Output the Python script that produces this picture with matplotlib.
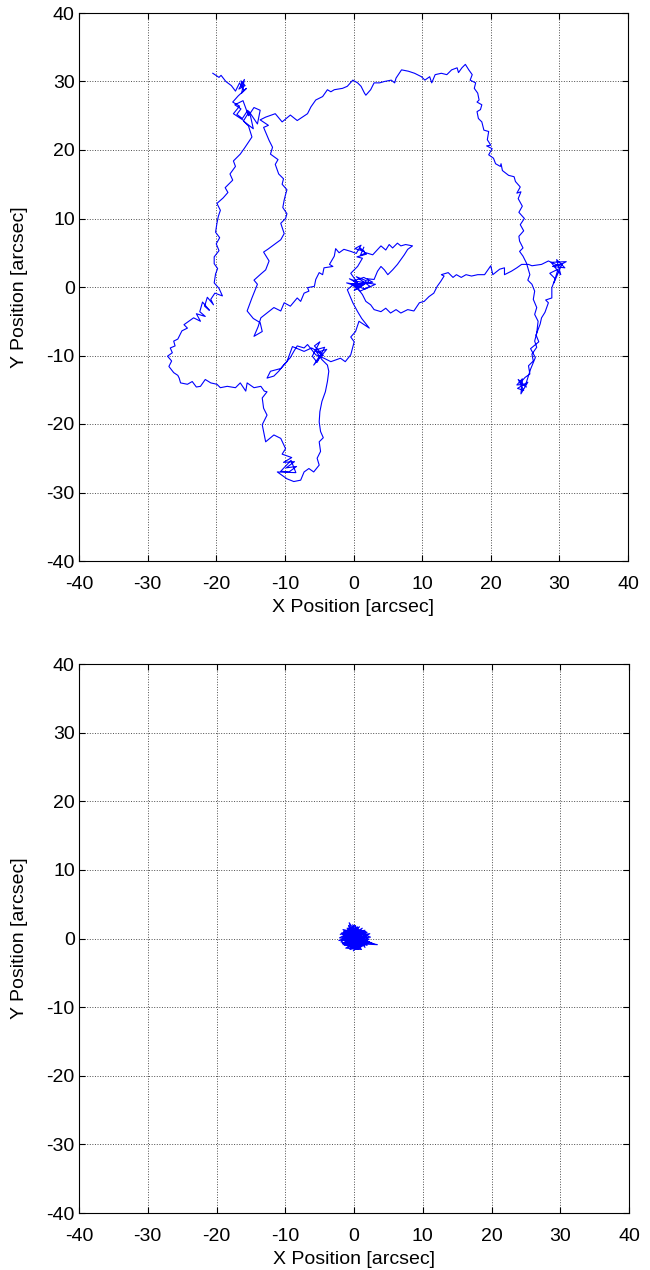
import matplotlib
matplotlib.use("Agg")
import matplotlib.pyplot as plt
import numpy as np

plt.rcParams["font.family"] = ["Liberation Sans", "DejaVu Sans"]
plt.rcParams["axes.unicode_minus"] = False

# ---- top panel: image motion track (arcsec) ----
start_top_left = [
    (-20.5, 31.2), (-19.6, 30.6), (-19.3, 30.9), (-18.6, 30.0), (-17.8, 29.4),
    (-17.2, 28.6), (-16.6, 29.8), (-16.0, 28.7), (-16.4, 30.1), (-15.8, 29.4),
    (-16.7, 28.9), (-15.9, 30.3), (-16.3, 28.3), (-15.6, 29.0), (-16.8, 27.9),
    (-17.6, 27.0), (-16.6, 26.4), (-17.5, 25.3), (-16.9, 24.9), (-16.0, 24.3),
    (-15.2, 25.6), (-14.0, 23.8), (-13.6, 25.8), (-14.5, 26.2), (-15.3, 25.0),
    (-16.1, 27.2), (-17.3, 26.6), (-16.4, 26.0), (-17.0, 25.2), (-16.2, 24.6),
    (-15.4, 25.8), (-15.0, 24.9), (-14.6, 23.1), (-16.0, 24.2), (-15.3, 23.5),
]
left_strand = [
    (-14.8, 21.9), (-15.8, 20.4), (-16.5, 19.4), (-17.5, 18.4), (-17.2, 17.6),
    (-18.0, 16.5), (-17.6, 15.6), (-18.7, 14.5), (-18.3, 13.8), (-19.0, 13.0),
    (-19.9, 12.2), (-19.4, 11.2), (-19.7, 10.3), (-19.9, 9.3), (-20.1, 8.0),
    (-19.5, 7.2), (-20.0, 6.3), (-19.6, 5.3), (-20.3, 4.4), (-20.3, 3.4),
    (-19.8, 2.7), (-20.1, 1.9), (-20.3, 0.6), (-19.6, -0.2), (-19.1, -1.3),
    (-20.2, -0.9), (-20.8, -1.8), (-20.4, -2.6), (-21.3, -1.5), (-21.7, -2.8),
    (-21.0, -3.4), (-22.0, -2.2), (-22.4, -3.6), (-21.6, -4.3), (-22.9, -3.9),
    (-22.3, -5.0),
]
left_loop = [
    (-23.3, -4.5), (-24.7, -5.5), (-24.2, -6.0), (-25.0, -6.4), (-25.6, -7.6),
    (-26.2, -7.9), (-26.0, -8.6), (-26.7, -8.9), (-26.4, -9.6), (-27.1, -10.1),
    (-26.5, -10.8), (-26.9, -11.6), (-26.2, -12.5), (-25.6, -12.9), (-25.4, -13.3),
    (-25.2, -14.0), (-24.2, -14.2), (-23.5, -13.8), (-22.9, -14.6), (-22.3, -14.5),
    (-21.6, -13.5), (-20.8, -14.0), (-19.9, -14.2), (-19.4, -14.7), (-18.4, -14.5),
    (-17.2, -14.7), (-16.5, -14.0), (-15.7, -15.2), (-15.5, -14.0), (-14.5, -14.7),
    (-13.5, -14.5),
]
lower_loop = [
    (-13.0, -15.2), (-12.6, -15.3), (-13.3, -16.2), (-13.1, -17.7), (-12.6, -18.7),
    (-13.3, -20.1), (-13.1, -21.1), (-12.8, -22.6), (-11.6, -21.6), (-10.6, -22.1),
    (-9.9, -23.6), (-10.4, -24.4), (-9.0, -24.9), (-10.2, -25.6), (-8.6, -25.5),
    (-9.8, -26.4), (-8.3, -26.2), (-9.4, -27.0), (-10.6, -26.9), (-9.1, -25.3),
    (-8.4, -27.1), (-11.1, -27.0), (-9.7, -28.0), (-8.7, -28.4), (-7.7, -28.2),
    (-7.2, -27.0), (-6.5, -26.5), (-5.8, -27.0), (-5.0, -26.0), (-5.3, -25.0),
    (-4.8, -24.0), (-5.0, -22.6), (-4.4, -22.0), (-4.8, -21.1), (-5.0, -19.7),
    (-4.9, -18.2), (-4.6, -16.7), (-4.1, -15.3), (-3.8, -13.8), (-3.6, -12.3),
    (-3.8, -11.4),
]
mid_cluster = [
    (-4.6, -10.6), (-5.6, -9.2), (-4.2, -8.8), (-5.3, -11.0), (-6.0, -10.1),
    (-4.9, -8.0), (-5.7, -8.6), (-4.4, -10.0), (-5.2, -9.5), (-3.9, -9.1),
    (-5.8, -11.4), (-4.7, -9.7), (-6.1, -8.9), (-7.2, -9.4), (-8.9, -8.7),
    (-9.7, -10.9), (-10.6, -11.9), (-12.1, -12.3), (-12.6, -13.3), (-11.6, -13.0),
    (-10.9, -12.3), (-10.1, -11.3), (-9.2, -10.3), (-8.7, -9.4), (-8.2, -8.6),
    (-7.2, -8.9), (-6.7, -8.4), (-5.5, -9.9), (-4.3, -10.4),
]
center_rise = [
    (-3.3, -10.9), (-1.9, -10.4), (-1.2, -10.9), (-0.4, -9.9), (0.1, -8.0),
    (-0.4, -7.3), (0.3, -6.5), (0.8, -5.0), (2.3, -6.0), (1.2, -4.6),
    (0.6, -3.6), (-0.1, -2.3), (-0.9, -0.4), (0.5, 0.8), (-0.6, 1.2),
    (1.2, 0.2), (0.1, -0.5), (1.9, 0.9), (0.4, 1.5), (2.4, 0.1),
    (1.0, -0.6), (-0.3, 0.4), (2.8, 0.7), (1.5, 1.4), (0.0, 0.9),
    (3.2, 0.4), (1.7, -0.3), (-1.0, 0.6), (0.8, 0.3), (-0.4, 2.0),
    (0.6, 3.0), (1.3, 4.2), (0.5, 4.4), (1.9, 4.8), (0.9, 5.7),
    (1.6, 5.2), (0.2, 5.6), (1.1, 6.1), (0.4, 4.9),
]
upper_left_strand = [
    (-0.4, 5.2), (-1.4, 5.5), (-2.1, 5.0), (-2.6, 5.6), (-2.8, 4.5),
    (-3.5, 3.3), (-3.0, 3.0), (-4.3, 2.8), (-4.5, 1.8), (-5.0, 2.1),
    (-5.5, 1.1), (-5.7, 0.1), (-6.7, -0.1), (-6.5, -0.6), (-7.2, -0.9),
    (-7.7, -2.1), (-8.2, -1.6), (-9.2, -2.8), (-10.1, -2.3), (-10.6, -3.5),
    (-11.6, -3.0), (-12.6, -3.8), (-13.5, -4.5), (-13.9, -5.8), (-14.5, -7.2),
    (-13.3, -6.5), (-13.6, -5.2), (-14.6, -4.6), (-15.5, -3.5),
]
inner_strand = [
    (-14.8, -1.6), (-14.0, 0.4), (-14.5, 1.0), (-13.5, 1.9), (-12.8, 2.5),
    (-12.3, 3.8), (-13.1, 5.1), (-12.5, 5.5), (-11.4, 6.3), (-10.6, 6.9),
    (-10.1, 7.8), (-10.6, 9.3), (-9.9, 10.0), (-9.7, 10.7), (-10.3, 11.6),
    (-10.1, 12.7), (-9.9, 13.5), (-9.7, 14.2), (-10.4, 15.0), (-10.2, 15.8),
    (-10.9, 16.5), (-11.4, 17.9), (-11.0, 18.6), (-12.1, 19.4), (-11.8, 20.4),
    (-12.3, 21.4), (-13.1, 23.3), (-12.4, 23.6), (-13.6, 24.4), (-12.8, 24.8),
]
top_edge = [
    (-11.4, 25.3), (-10.4, 24.1), (-9.2, 25.1), (-8.2, 24.3), (-6.7, 25.3),
    (-6.2, 26.3), (-5.5, 27.3), (-4.5, 27.8), (-3.8, 28.8), (-3.3, 28.5),
    (-2.8, 28.8), (-1.6, 29.0), (-0.9, 29.3), (-0.1, 30.2), (0.6, 29.8),
    (1.1, 29.3), (1.6, 28.3), (1.8, 28.0), (2.5, 28.8), (3.0, 29.8),
    (3.8, 29.8), (4.5, 30.0), (5.5, 30.2), (6.0, 29.8), (6.2, 30.5),
    (7.0, 31.7), (8.0, 31.5), (8.9, 31.2), (9.9, 30.7), (10.4, 30.2),
    (11.1, 30.7), (11.4, 29.8), (11.9, 31.0), (12.8, 31.2), (13.6, 31.0),
    (14.3, 31.7), (15.1, 32.0), (15.3, 31.3), (15.8, 32.0), (16.3, 32.5),
]
right_edge = [
    (16.8, 31.7), (17.3, 31.0), (17.0, 30.2), (17.8, 29.8), (17.6, 29.0),
    (18.1, 28.3), (18.3, 27.3), (18.0, 27.0), (18.7, 26.6), (18.5, 25.9),
    (18.0, 25.6), (18.2, 24.6), (18.7, 24.1), (19.0, 22.9), (19.7, 22.7),
    (19.5, 21.5), (20.0, 20.7), (19.4, 20.6), (20.2, 20.2), (19.7, 19.3),
    (20.4, 18.8), (20.7, 18.0), (21.4, 17.6), (21.5, 18.0), (21.7, 17.0),
    (22.6, 16.3), (23.4, 16.1), (23.6, 15.4), (24.3, 14.6), (23.8, 13.7),
    (24.4, 13.9), (24.0, 12.9), (24.6, 11.8), (24.1, 10.9), (24.9, 10.0),
    (24.3, 9.1), (24.8, 8.2), (24.1, 7.4), (24.2, 6.7), (24.7, 5.7),
    (24.2, 5.2), (24.7, 4.5), (25.2, 3.5), (25.7, 1.8), (25.4, 1.0),
    (26.0, 0.4), (26.4, -0.6), (26.2, -1.8), (26.7, -3.0), (26.4, -4.0),
    (26.9, -5.0), (26.7, -6.7), (26.4, -7.9), (26.7, -8.8), (26.0, -9.8),
    (26.2, -10.8), (25.5, -11.5), (25.7, -12.7), (25.0, -13.2),
]
bottom_right_cluster = [
    (24.3, -14.0), (25.2, -14.6), (24.0, -13.5), (24.8, -15.1), (23.9, -14.8),
    (25.4, -13.9), (24.4, -15.6), (24.6, -13.4), (23.8, -14.3), (25.1, -14.2),
    (25.8, -12.0), (26.5, -10.3), (25.8, -9.0), (27.0, -8.0), (26.6, -7.0),
    (27.2, -5.4), (27.4, -4.5), (27.9, -3.7), (28.4, -2.3), (28.0, -1.9),
    (28.9, -1.6), (28.9, -0.1),
]
right_cluster = [
    (29.4, 1.2), (28.6, 2.0), (29.8, 2.6), (29.2, 0.6), (30.4, 3.4),
    (29.0, 3.0), (30.8, 2.8), (29.6, 4.0), (30.2, 1.8), (28.8, 3.6),
    (31.0, 3.7), (29.9, 3.1), (28.4, 3.8), (27.4, 3.3), (26.0, 3.1),
    (25.5, 3.3),
]
horizontal_strand = [
    (24.5, 3.3), (23.8, 2.8), (23.0, 2.3), (22.0, 1.8), (22.0, 2.8),
    (21.3, 2.6), (20.3, 1.8), (20.0, 3.1), (19.1, 1.8), (18.1, 1.8),
    (17.2, 1.6), (16.4, 1.8), (15.7, 1.4), (15.0, 1.8), (14.5, 1.4),
    (13.8, 2.1), (12.8, 1.8), (13.2, 1.6), (12.7, 0.8), (12.2, 0.1),
    (11.7, -0.9), (11.0, -1.4), (10.3, -2.1), (9.6, -2.3), (8.8, -3.5),
    (7.9, -3.3), (6.9, -3.8), (6.2, -3.3), (5.4, -3.8), (4.7, -3.1),
    (4.0, -3.6), (3.0, -3.3), (2.5, -2.6), (1.8, -2.1), (1.3, -1.1),
]
final_loop = [
    (0.3, 0.2), (1.6, 0.5), (0.7, -0.2), (2.2, 0.8), (2.0, 1.2),
    (3.0, 1.1), (3.5, 2.3), (4.0, 3.0), (4.5, 2.5), (5.0, 1.8),
    (5.7, 2.5), (6.4, 3.3), (6.9, 4.0), (7.4, 4.7), (7.9, 5.5),
    (8.6, 6.0), (7.6, 6.2), (6.9, 6.0), (6.4, 6.4), (5.7, 5.7),
    (5.2, 6.2), (4.7, 5.4), (4.0, 6.0), (2.8, 4.7), (1.8, 5.0),
    (1.0, 4.6), (1.5, 5.8),
]

# ---- bottom panel: corrected track, small blob around the origin ----
corrected = [
    (0.0, 0.0), (1.2, 0.8), (-0.9, -0.6), (0.6, 1.4), (-1.5, 0.3), (1.8, -0.4),
    (-0.3, -1.3), (0.9, 1.1), (-1.8, -0.2), (1.4, 0.2), (-0.5, 1.6), (0.3, -0.9),
    (2.0, 0.5), (-1.2, 1.0), (0.7, -1.5), (-0.8, 0.4), (1.6, 1.2), (-2.0, 0.6),
    (0.2, 1.9), (1.1, -1.1), (-1.4, -1.0), (2.2, -0.1), (-0.2, 0.7), (0.9, -0.3),
    (-1.0, 1.5), (1.9, 0.9), (-1.7, -0.7), (0.4, 0.3), (-0.6, -1.6), (1.5, -0.9),
    (-0.7, 2.3), (-0.4, 1.2), (2.4, 0.2), (-1.3, -0.3), (0.8, 1.7), (-2.1, 0.1),
    (1.3, -0.5), (-0.1, -1.8), (1.7, 0.6), (-1.6, 1.3), (0.5, -0.6), (2.1, -0.7),
    (-0.9, -1.3), (1.0, 0.5), (-1.1, 0.8), (0.1, -0.2), (3.4, -0.9), (1.4, -0.8),
    (-0.3, 1.0), (0.6, -1.2), (-1.9, -0.5), (1.2, 1.5), (-0.5, -0.4), (2.0, -0.3),
    (-1.4, 0.5), (0.3, 1.3), (1.6, -1.3), (-0.8, 1.9), (0.0, -1.0), (1.8, 0.3),
    (-2.2, -0.3), (0.9, 0.9), (-0.6, 0.1), (1.1, -1.6), (-1.2, -1.4), (2.3, 0.7),
    (0.2, 0.5), (-1.5, 1.0), (0.7, -0.1), (-0.2, 2.0), (1.5, 0.4), (-1.0, -0.8),
    (0.4, -1.6), (2.2, -0.5), (-1.7, 0.2), (0.8, 1.2), (-0.4, -0.9), (1.3, 0.0),
    (-0.9, 1.1), (0.0, 0.6), (1.9, -1.0), (-1.3, -0.1), (0.5, 1.7), (-0.7, -0.2),
    (1.0, -0.7), (-1.8, 0.8), (0.3, -1.3), (1.7, 1.0), (-0.3, 0.3), (0.6, 0.2),
    (2.9, -0.8), (1.2, -0.2), (-1.1, 0.2), (0.1, 1.1), (0.8, -0.9), (-0.5, 0.9),
    (1.4, 0.7), (-1.6, -0.9), (0.2, -0.5), (-0.1, 0.1),
]

raw_track = np.array(start_top_left + left_strand + left_loop + lower_loop
                     + mid_cluster + center_rise + upper_left_strand
                     + inner_strand + top_edge + right_edge
                     + bottom_right_cluster + right_cluster
                     + horizontal_strand + final_loop)
fixed_track = np.array(corrected)

ticks = list(range(-40, 41, 10))

fig = plt.figure(figsize=(6.5, 12.7), dpi=100)
ax1 = fig.add_axes([79 / 650, 1 - 561 / 1270, 549 / 650, 548 / 1270])
ax2 = fig.add_axes([79 / 650, 1 - 1213 / 1270, 550 / 650, 549 / 1270])

for ax, track in [(ax1, raw_track), (ax2, fixed_track)]:
    ax.plot(track[:, 0], track[:, 1], color="#0000ff", lw=0.8)
    ax.set_xlim(-40, 40)
    ax.set_ylim(-40, 40)
    ax.set_xticks(ticks)
    ax.set_yticks(ticks)
    ax.grid(True, color="0.3", linestyle=":", linewidth=0.7)
    ax.tick_params(direction="in", top=True, right=True, length=4,
                   width=0.8, labelsize=14, colors="black")
    ax.tick_params(axis="x", pad=11)
    ax.tick_params(axis="y", pad=3)
    for s in ax.spines.values():
        s.set_linewidth(0.8)
    ax.set_xlabel("X Position [arcsec]", fontsize=14, labelpad=4)
    ax.set_ylabel("Y Position [arcsec]", fontsize=14, labelpad=13)

fig.savefig("out.png", dpi=100)
